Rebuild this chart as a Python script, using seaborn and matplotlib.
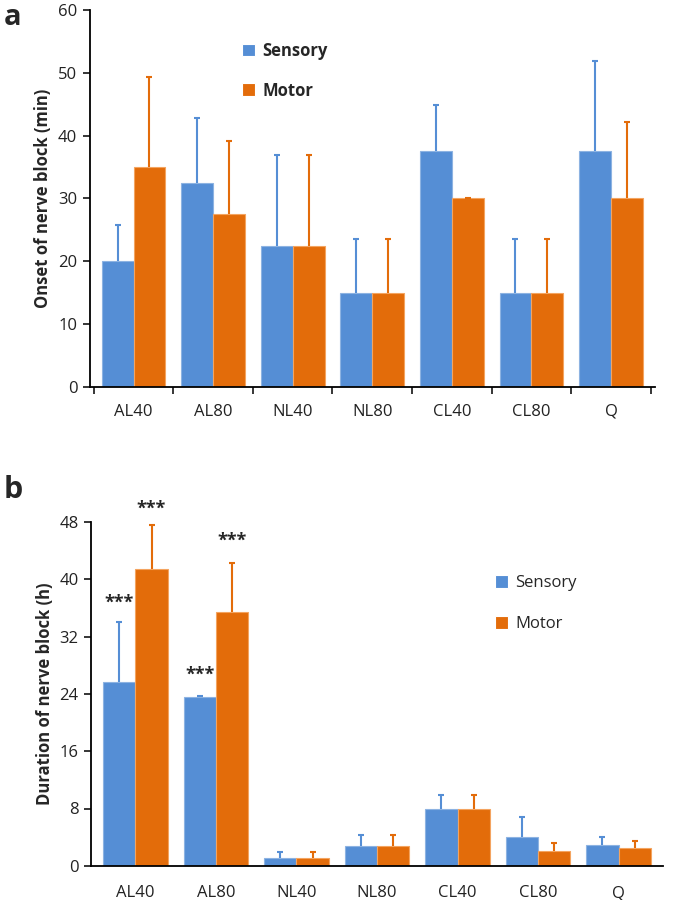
import numpy as np
import pandas as pd
import seaborn as sns
import matplotlib.pyplot as plt

# data
groups = ['AL40', 'AL80', 'NL40', 'NL80', 'CL40', 'CL80', 'Q']

onset_sensory = [20, 32.5, 22.5, 15, 37.5, 15, 37.5]
onset_sensory_err = [5.8, 10.3, 14.4, 8.6, 7.4, 8.6, 14.3]
onset_motor = [35, 27.5, 22.5, 15, 30, 15, 30]
onset_motor_err = [14.4, 11.7, 14.4, 8.6, 0.0, 8.6, 12.1]

dur_sensory = [25.7, 23.5, 1.1, 2.75, 8.0, 4.0, 2.9]
dur_sensory_err = [8.3, 0.15, 0.85, 1.6, 1.9, 2.85, 1.15]
dur_motor = [41.4, 35.5, 1.1, 2.75, 8.0, 2.05, 2.5]
dur_motor_err = [6.2, 6.8, 0.85, 1.6, 1.9, 1.15, 0.95]

# stars drawn above selected bars in panel b: (group, series, y)
stars = [('AL40', 'Sensory', 36.7), ('AL40', 'Motor', 49.9),
         ('AL80', 'Sensory', 26.7), ('AL80', 'Motor', 45.4)]

colors = {'Sensory': '#558ED5', 'Motor': '#E36C0A'}
edges = {'Sensory': '#8DB3E2', 'Motor': '#F4A460'}

sns.set_style('white')
plt.rcParams['font.family'] = ['Open Sans', 'DejaVu Sans']


def make_df(sens, sens_err, mot, mot_err):
    return pd.DataFrame({
        'group': groups * 2,
        'series': ['Sensory'] * len(groups) + ['Motor'] * len(groups),
        'value': list(sens) + list(mot),
        'err': list(sens_err) + list(mot_err),
    })


def draw_panel(ax, df, xpad):
    sns.barplot(data=df, x='group', y='value', hue='series', order=groups,
                hue_order=['Sensory', 'Motor'], palette=colors, errorbar=None,
                width=0.8, saturation=1, ax=ax, linewidth=0.8)
    centers = {}
    for cont, name in zip(ax.containers, ['Sensory', 'Motor']):
        sub = df[df['series'] == name].set_index('group').loc[groups]
        xs = []
        for bar in cont:
            bar.set_edgecolor(edges[name])
            xs.append(bar.get_x() + bar.get_width() / 2)
        xs = np.array(xs)
        centers[name] = dict(zip(groups, xs))
        eb = ax.errorbar(xs, sub['value'], yerr=[np.zeros(len(xs)), sub['err']],
                         fmt='none', ecolor=colors[name], elinewidth=1.5,
                         capsize=2.5, capthick=1.5)
        # only the upper cap is shown
        eb[1][0].set_visible(False)
    ax.set_xlabel('')
    sns.despine(ax=ax)
    for side in ['left', 'bottom']:
        ax.spines[side].set_linewidth(1.3)
        ax.spines[side].set_color('black')
    ax.tick_params(axis='y', direction='out', length=5, width=1.3,
                   labelsize=12, left=True, pad=4, labelcolor='#222222')
    ax.tick_params(axis='x', labelsize=12, pad=xpad, labelcolor='#222222')
    ax.set_xlim(-0.55, len(groups) - 0.45)
    return centers


fig = plt.figure(figsize=(6.75, 9), dpi=100)

# panel a
ax1 = fig.add_axes([0.133, 0.570, 0.837, 0.419])
draw_panel(ax1, make_df(onset_sensory, onset_sensory_err, onset_motor, onset_motor_err), 12)
ax1.set_ylim(0, 60)
ax1.set_yticks(range(0, 61, 10))
ax1.set_ylabel('Onset of nerve block (min)', fontsize=12, fontweight='bold')
# ticks between categories on x axis
ax1.set_xticks(np.arange(-0.5, len(groups), 1.0), minor=True)
ax1.tick_params(axis='x', which='minor', direction='out', length=5, width=1.3, bottom=True)
ax1.tick_params(axis='x', which='major', length=0)
ax1.legend(loc='upper left', bbox_to_anchor=(0.243, 0.955), frameon=False,
           handlelength=0.8, handleheight=0.8, handletextpad=0.4,
           labelspacing=1.3, prop={'weight': 'bold', 'size': 12})
fig.text(0.005, 0.972, 'a', fontsize=21, fontweight='bold', va='baseline')

# panel b
ax2 = fig.add_axes([0.135, 0.038, 0.847, 0.382])
centers = draw_panel(ax2, make_df(dur_sensory, dur_sensory_err, dur_motor, dur_motor_err), 14)
ax2.set_ylim(0, 48)
ax2.set_yticks(range(0, 49, 8))
ax2.set_ylabel('Duration of nerve block (h)', fontsize=12, fontweight='bold')
ax2.tick_params(axis='x', which='major', length=0)
ax2.legend(loc='upper left', bbox_to_anchor=(0.68, 0.89), frameon=False,
           handlelength=0.8, handleheight=0.8, handletextpad=0.4,
           labelspacing=1.5, prop={'size': 12})
for grp, ser, y in stars:
    ax2.text(centers[ser][grp], y, '***', ha='center', va='center',
             fontsize=13, fontweight='bold', clip_on=False)
fig.text(0.005, 0.447, 'b', fontsize=22, fontweight='bold', va='baseline')

fig.savefig('out.png', dpi=100)
